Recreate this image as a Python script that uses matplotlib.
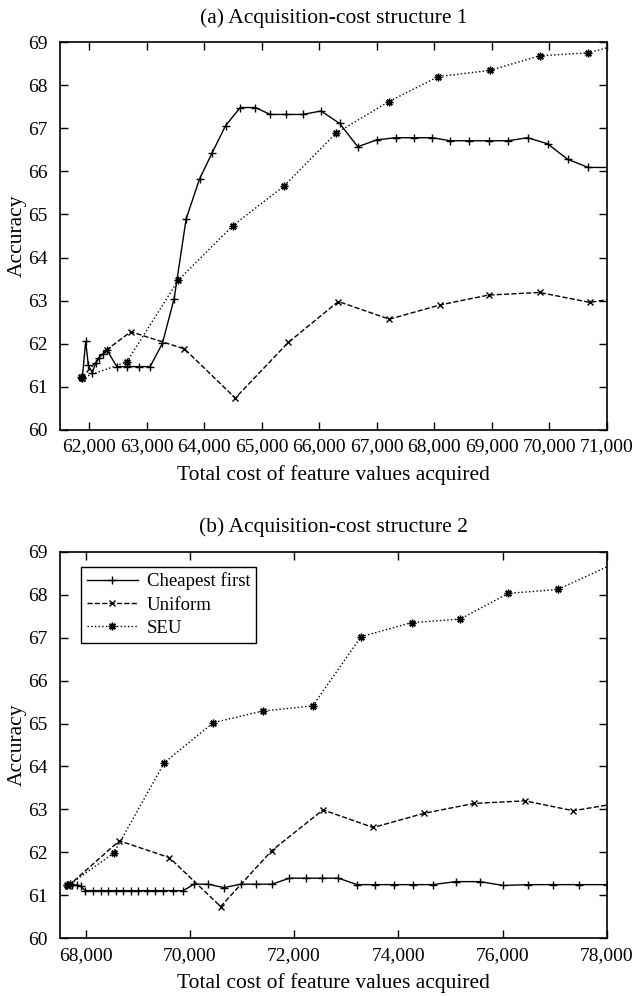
import matplotlib
matplotlib.use('Agg')
import matplotlib.pyplot as plt
from matplotlib.ticker import FuncFormatter

plt.rcParams['font.family'] = ['Liberation Serif', 'DejaVu Serif']
plt.rcParams['font.size'] = 14

# (a) acquisition-cost structure 1
a_cheap_x = [61879, 61937, 61983, 62053, 62112, 62170, 62234, 62304, 62478, 62663, 62861, 63058,
             63272, 63476, 63685, 63917, 64133, 64370, 64626, 64887, 65148, 65427, 65711, 66031,
             66356, 66670, 66998, 67329, 67648, 67968, 68275, 68606, 68944, 69285, 69623, 69971,
             70320, 70679, 71100]
a_cheap_y = [61.21, 62.06, 61.50, 61.33, 61.56, 61.68, 61.76, 61.86, 61.47, 61.47, 61.47, 61.47,
             62.01, 63.05, 64.90, 65.82, 66.42, 67.06, 67.48, 67.48, 67.32, 67.32, 67.32, 67.40,
             67.11, 66.57, 66.73, 66.78, 66.78, 66.78, 66.71, 66.71, 66.71, 66.71, 66.78, 66.64,
             66.28, 66.09, 66.09]
a_unif_x = [61868, 62304, 62722, 63655, 64540, 65460, 66331, 67220, 68098, 68944, 69833, 70704, 71100]
a_unif_y = [61.21, 61.86, 62.28, 61.88, 60.74, 62.03, 62.98, 62.57, 62.90, 63.13, 63.19, 62.96, 63.04]
a_seu_x = [61860, 61880, 62652, 63551, 64497, 65387, 66286, 67212, 68073, 68962, 69833, 70679, 71100]
a_seu_y = [61.22, 61.21, 61.58, 63.48, 64.74, 65.66, 66.88, 67.62, 68.20, 68.34, 68.68, 68.75, 68.90]

# (b) acquisition-cost structure 2
b_cheap_x = [67635, 67731, 67827, 67904, 67987, 68147, 68288, 68435, 68582, 68723, 68863, 69011,
             69170, 69330, 69490, 69682, 69874, 70079, 70354, 70655, 70975, 71269, 71576, 71909,
             72222, 72542, 72849, 73210, 73553, 73924, 74288, 74660, 75101, 75568, 76015, 76483,
             76975, 77474, 78000]
b_cheap_y = [61.24, 61.24, 61.24, 61.22, 61.11, 61.11, 61.11, 61.11, 61.11, 61.11, 61.11, 61.11,
             61.11, 61.11, 61.11, 61.11, 61.11, 61.26, 61.26, 61.18, 61.26, 61.26, 61.26, 61.40,
             61.40, 61.40, 61.40, 61.25, 61.25, 61.25, 61.25, 61.25, 61.32, 61.32, 61.23, 61.25,
             61.25, 61.25, 61.25]
b_unif_x = [67667, 68646, 69605, 70591, 71570, 72555, 73518, 74494, 75454, 76432, 77358, 78100]
b_unif_y = [61.22, 62.27, 61.88, 60.74, 62.04, 62.99, 62.58, 62.91, 63.14, 63.20, 62.97, 63.12]
b_seu_x = [67650, 67700, 68543, 69510, 70450, 71397, 72357, 73284, 74257, 75184, 76112, 77059, 78100]
b_seu_y = [61.24, 61.26, 61.99, 64.09, 65.02, 65.29, 65.41, 67.02, 67.35, 67.43, 68.03, 68.12, 68.70]

labels = ['Cheapest first', 'Uniform', 'SEU']
styles = ['-', '--', ':']
markers = ['+', 'x', (8, 2, 0)]
msizes = [5.5, 5, 5.5]

fig = plt.figure(figsize=(6.32, 9.96), dpi=100)
ax1 = fig.add_axes([0.0949, 0.5683, 0.8651, 0.3895])
ax2 = fig.add_axes([0.0949, 0.0579, 0.8651, 0.3882])

comma = FuncFormatter(lambda v, p: '{:,.0f}'.format(v))


def draw(ax, series, xlim, xticks, title):
    for (x, y), ls, mk, ms, lab in zip(series, styles, markers, msizes, labels):
        ax.plot(x, y, linestyle=ls, marker=mk, color='black', lw=1.0, ms=ms, mew=1.0,
                label=lab, clip_on=True)
    ax.set_xlim(*xlim)
    ax.set_ylim(60, 69)
    ax.set_xticks(xticks)
    ax.set_yticks(range(60, 70))
    ax.xaxis.set_major_formatter(comma)
    ax.tick_params(direction='in', top=True, right=True, length=6, width=1.0, labelsize=14)
    ax.tick_params(axis='y', pad=9)
    ax.tick_params(axis='x', pad=6)
    for s in ax.spines.values():
        s.set_linewidth(1.2)
    ax.set_title(title, fontsize=15.5, pad=14)
    ax.set_xlabel('Total cost of feature values acquired', fontsize=15.5, labelpad=7)
    ax.set_ylabel('Accuracy', fontsize=15.5, labelpad=1)


draw(ax1, [(a_cheap_x, a_cheap_y), (a_unif_x, a_unif_y), (a_seu_x, a_seu_y)],
     (61490, 71000), range(62000, 71001, 1000), '(a) Acquisition-cost structure 1')
draw(ax2, [(b_cheap_x, b_cheap_y), (b_unif_x, b_unif_y), (b_seu_x, b_seu_y)],
     (67507, 78000), range(68000, 78001, 2000), '(b) Acquisition-cost structure 2')

leg = ax2.legend(loc='upper left', fontsize=13.5, handlelength=2.7, fancybox=False,
                 edgecolor='black', framealpha=1, borderpad=0.3, labelspacing=0.33,
                 handletextpad=0.5, bbox_to_anchor=(0.022, 0.985))
leg.get_frame().set_linewidth(1.0)

fig.savefig('out.png', dpi=100)
